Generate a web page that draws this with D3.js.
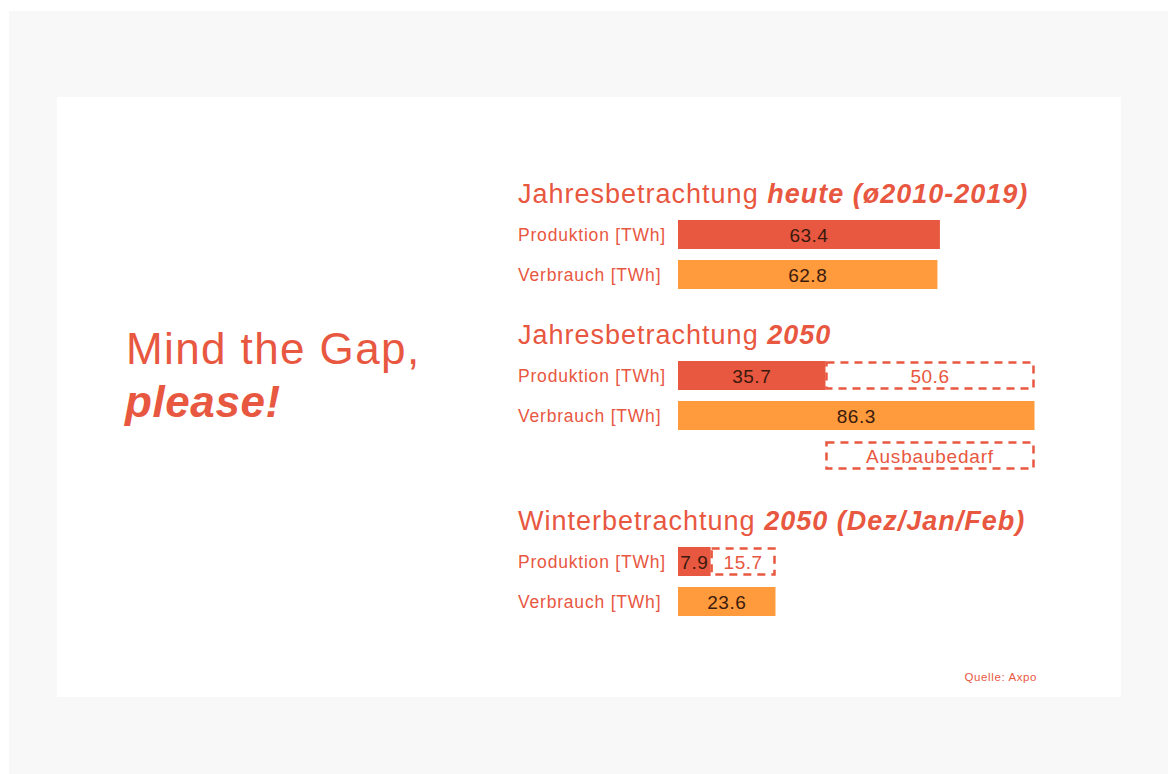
<!DOCTYPE html>
<html><head><meta charset="utf-8">
<script src="https://cdn.jsdelivr.net/npm/d3@7/dist/d3.min.js"></script>
<style>
html,body{margin:0;padding:0;background:#fff;}
svg{display:block;font-family:"Liberation Sans",Arial,sans-serif;}
</style></head>
<body><svg id="c" width="1168" height="774"></svg>
<script>
// ---- data ----
const groupTitles = ["Jahresbetrachtung ", "Jahresbetrachtung ", "Winterbetrachtung "];
const groupTitleEmph = ["heute (ø2010-2019)", "2050", "2050 (Dez/Jan/Feb)"];
const rowLabels = ["Produktion [TWh]", "Verbrauch [TWh]"];
const production = [63.4, 35.7, 7.9];
const consumption = [62.8, 86.3, 23.6];
const gap = [null, 50.6, 15.7];
const headline = ["Mind the Gap,", "please!"];
const legendLabel = "Ausbaubedarf";
const source = "Quelle: Axpo";

// ---- layout ----
const RED = "#E8573F", ORANGE = "#FF9B3D", TXT = "#E8573F", DARK = "#3a1a0e";
const svg = d3.select("#c");
svg.append("rect").attr("x",0).attr("y",0).attr("width",1168).attr("height",774).attr("fill","#fff");
svg.append("rect").attr("x",9).attr("y",11).attr("width",1159).attr("height",763).attr("fill","#f8f8f8");
svg.append("rect").attr("x",57).attr("y",97).attr("width",1064).attr("height",600).attr("fill","#fff");

const x = d3.scaleLinear().domain([0, 86.3]).range([678, 1034.5]);
const barH = 29;
const groupTop = [193, 334, 520];   // title center y
const rowStep = 40;

// headline
svg.append("text").attr("x",126).attr("y",364).attr("fill",TXT).attr("font-size",44)
  .attr("letter-spacing", 1.4).text(headline[0]);
svg.append("text").attr("x",125).attr("y",417).attr("fill",TXT).attr("font-size",44)
  .attr("letter-spacing", 0.6)
  .attr("font-weight","bold").attr("font-style","italic").text(headline[1]);

groupTitles.forEach((t, i) => {
  const g = svg.append("g");
  const ty = groupTop[i];
  const tt = g.append("text").attr("x", 518).attr("y", ty + 10).attr("fill", TXT)
    .attr("font-size", 27).attr("letter-spacing", 1);
  tt.append("tspan").text(t);
  tt.append("tspan").attr("font-weight","bold").attr("font-style","italic").text(groupTitleEmph[i]);

  const rows = [production[i], consumption[i]];
  rows.forEach((v, r) => {
    const yTop = ty + 27 + r * rowStep;
    g.append("text").attr("x", 518).attr("y", yTop + barH/2 + 6).attr("fill", TXT)
      .attr("font-size", 17.5).attr("letter-spacing", 0.8).text(rowLabels[r]);
    g.append("rect").attr("x", x(0)).attr("y", yTop).attr("width", x(v) - x(0)).attr("height", barH)
      .attr("fill", r === 0 ? RED : ORANGE);
    g.append("text").attr("x", (x(0) + x(v)) / 2).attr("y", yTop + barH/2 + 7)
      .attr("text-anchor", "middle").attr("fill", DARK).attr("font-size", 19).attr("letter-spacing", 0.5)
      .text(d3.format(".1f")(v));
    if (r === 0 && gap[i] != null) {
      const x0 = x(v), x1 = x(v + gap[i]);
      g.append("rect").attr("x", x0 + 1).attr("y", yTop + 1.5).attr("width", x1 - x0 - 2).attr("height", barH - 3)
        .attr("fill", "none").attr("stroke", RED).attr("stroke-width", 2.5).attr("stroke-dasharray", "8,6");
      g.append("text").attr("x", (x0 + x1) / 2).attr("y", yTop + barH/2 + 7)
        .attr("text-anchor", "middle").attr("fill", RED).attr("font-size", 19).attr("letter-spacing", 0.5)
        .text(d3.format(".1f")(gap[i]));
    }
  });
  if (i === 1) {
    const yTop = ty + 27 + 2 * rowStep;
    const x0 = x(production[i]), x1 = x(production[i] + gap[i]);
    g.append("rect").attr("x", x0 + 1).attr("y", yTop + 1.5).attr("width", x1 - x0 - 2).attr("height", barH - 3)
      .attr("fill", "none").attr("stroke", RED).attr("stroke-width", 2.5).attr("stroke-dasharray", "8,6");
    g.append("text").attr("x", (x0 + x1) / 2).attr("y", yTop + barH/2 + 7)
      .attr("text-anchor", "middle").attr("fill", RED).attr("font-size", 19).attr("letter-spacing", 0.8)
      .text(legendLabel);
  }
});

svg.append("text").attr("x", 1037).attr("y", 681).attr("text-anchor","end").attr("fill", TXT)
  .attr("font-size", 11.5).attr("letter-spacing", 0.6).text(source);
</script></body></html>
